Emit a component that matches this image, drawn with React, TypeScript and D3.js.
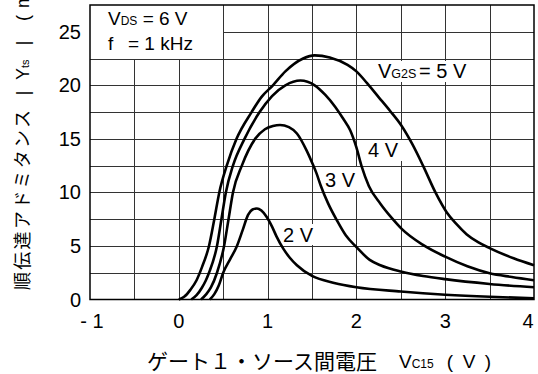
import React from "react";
import * as d3 from "d3";

const xTicks = [-1, 0, 1, 2, 3, 4];
const xTickLabels = ["- 1", "0", "1", "2", "3", "4"];
const yTicks = [0, 5, 10, 15, 20, 25];
const xGrid = [-0.5, 0, 0.5, 1, 1.5, 2, 2.5, 3, 3.5];
const yGrid = [2.5, 5, 7.5, 10, 12.5, 15, 17.5, 20, 22.5, 25];

const curve5V: [number, number][] = [
  [0, 0], [0.06, 0.25], [0.13, 0.9], [0.2, 1.8], [0.26, 3], [0.34, 5], [0.4, 7.5],
  [0.456, 10], [0.54, 12.5], [0.65, 15], [0.82, 17.5], [0.93, 18.9], [1.06, 20],
  [1.2, 21.3], [1.4, 22.5], [1.53, 22.8], [1.7, 22.6], [1.9, 21.9], [2.0, 21.3],
  [2.12, 20.2], [2.25, 18.9], [2.38, 17.6], [2.51, 16.2], [2.63, 14.5], [2.75, 12.5],
  [2.89, 10], [3.02, 8.1], [3.12, 7.1], [3.24, 6.1], [3.37, 5.35], [3.5, 4.8],
  [3.77, 3.85], [4, 3.2],
];
const curve4V: [number, number][] = [
  [0.14, 0], [0.2, 0.4], [0.26, 1.1], [0.3, 1.7], [0.34, 2.5], [0.43, 5], [0.48, 7.5],
  [0.53, 10], [0.61, 12.5], [0.74, 15], [0.91, 17.5], [1.05, 19], [1.2, 20],
  [1.37, 20.45], [1.53, 20.0], [1.65, 19.1], [1.76, 18.0], [1.85, 16.9], [1.93, 15.8],
  [2.0, 14.2], [2.06, 12.4], [2.14, 10.6], [2.27, 8.95], [2.4, 7.6], [2.51, 6.6],
  [2.75, 5.1], [3.0, 4.0], [3.25, 3.1], [3.5, 2.45], [3.75, 2.1], [4, 1.8],
];
const curve3V: [number, number][] = [
  [0.25, 0], [0.31, 0.5], [0.36, 1.1], [0.43, 2.5], [0.51, 5], [0.56, 7.5], [0.61, 10],
  [0.71, 12.5], [0.86, 15], [0.97, 15.9], [1.06, 16.2], [1.14, 16.3], [1.24, 16.1],
  [1.33, 15.5], [1.44, 13.9], [1.5, 12.8], [1.55, 11.8], [1.6, 10.6], [1.68, 9.0],
  [1.78, 7.4], [1.88, 6.0], [2.0, 4.9], [2.15, 3.7], [2.27, 3.2], [2.51, 2.6],
  [2.75, 2.2], [3.0, 1.9], [3.5, 1.45], [4, 1.14],
];
const curve2V: [number, number][] = [
  [0.35, 0], [0.4, 0.5], [0.45, 1.3], [0.5, 2.5], [0.58, 3.8], [0.65, 4.9], [0.72, 6.5],
  [0.78, 7.9], [0.83, 8.4], [0.88, 8.5], [0.93, 8.3], [0.99, 7.7], [1.05, 6.8],
  [1.1, 5.9], [1.18, 4.7], [1.25, 3.9], [1.33, 3.2], [1.5, 2.2], [1.75, 1.55],
  [2.0, 1.15], [2.5, 0.75], [3.0, 0.45], [3.5, 0.25], [4, 0.12],
];
const seriesCurves = [curve5V, curve4V, curve3V, curve2V];

const LAT = "'Liberation Sans', Arial, sans-serif";
const CJK = "'Noto Sans CJK JP', sans-serif";

export default function App() {
  const x = d3.scaleLinear().domain([-1, 4]).range([90, 534]);
  const y = d3.scaleLinear().domain([0, 27.5]).range([299.5, 5]);
  const line = d3
    .line<[number, number]>()
    .x((d) => x(d[0]))
    .y((d) => y(d[1]))
    .curve(d3.curveMonotoneX);

  const left = x(-1);
  const right = x(4);
  const top = y(27.5);
  const bottom = y(0);
  const gx = (v: number) => Math.round(x(v)) + 0.5;
  const gy = (v: number) => Math.round(y(v)) + 0.5;

  const labelRects = [
    { x: 376, y: 61, w: 97, h: 21 },
    { x: 366, y: 140, w: 36, h: 21 },
    { x: 323, y: 167, w: 36, h: 24 },
    { x: 281, y: 224, w: 36, h: 21 },
  ];

  return (
    <svg width={538} height={374} style={{ position: "absolute", left: 0, top: 0, background: "#fff" }}>
      {xGrid.map((v) => (
        <line key={"gx" + v} x1={gx(v)} x2={gx(v)} y1={top} y2={bottom} stroke="#333" strokeWidth={1} />
      ))}
      {yGrid.map((v) => (
        <line key={"gy" + v} x1={left} x2={right} y1={gy(v)} y2={gy(v)} stroke="#333" strokeWidth={1} />
      ))}
      <rect x={left} y={top} width={gx(0.5) - left - 0.5} height={gy(22.5) - top - 0.5} fill="#fff" />
      {labelRects.map((r, i) => (
        <rect key={"lr" + i} x={r.x} y={r.y} width={r.w} height={r.h} fill="#fff" />
      ))}
      {seriesCurves.map((c, i) => (
        <path key={"c" + i} d={line(c) || ""} fill="none" stroke="#000" strokeWidth={2.6} strokeLinejoin="round" />
      ))}
      <rect x={left} y={top} width={right - left} height={bottom - top} fill="none" stroke="#000" strokeWidth={1.5} />

      <text y={25} fontFamily={LAT} fontSize={19} fill="#000">
        <tspan x={108}>V</tspan>
        <tspan fontSize={12}>DS</tspan>
        <tspan> = 6 V</tspan>
      </text>
      <text y={50} fontFamily={LAT} fontSize={19} fill="#000">
        <tspan x={108}>f</tspan>
        <tspan x={128}>= 1 kHz</tspan>
      </text>

      <text y={78} fontFamily={LAT} fontSize={20} fill="#000">
        <tspan x={378}>V</tspan>
        <tspan fontSize={12.5}>G2S</tspan>
        <tspan x={419}>= 5 V</tspan>
      </text>
      <text x={368} y={157} fontFamily={LAT} fontSize={20} fill="#000">4 V</text>
      <text x={325} y={187} fontFamily={LAT} fontSize={20} fill="#000">3 V</text>
      <text x={283} y={242} fontFamily={LAT} fontSize={20} fill="#000">2 V</text>

      {yTicks.map((t) => (
        <text key={"yt" + t} x={81} y={y(t) + 7} textAnchor="end" fontFamily={LAT} fontSize={20} fill="#000">
          {t}
        </text>
      ))}
      {xTicks.map((t, i) => (
        <text
          key={"xt" + t}
          x={x(t) + (i === 0 ? 2 : i === xTicks.length - 1 ? -6 : 0)}
          y={328}
          textAnchor="middle"
          fontFamily={LAT}
          fontSize={20}
          fill="#000"
        >
          {xTickLabels[i]}
        </text>
      ))}

      <text x={147} y={369} fontFamily={CJK} fontSize={21} fill="#000">ゲート１・ソース間電圧</text>
      <text y={368} fontFamily={LAT} fontSize={19} fill="#000">
        <tspan x={399}>V</tspan>
        <tspan fontSize={12}>C15</tspan>
      </text>
      <text x={450} y={368} textAnchor="middle" fontFamily={LAT} fontSize={19} fill="#000">(</text>
      <text x={469} y={368} textAnchor="middle" fontFamily={LAT} fontSize={19} fill="#000">V</text>
      <text x={488} y={368} textAnchor="middle" fontFamily={LAT} fontSize={19} fill="#000">)</text>

      <g transform="rotate(-90)">
        <text x={-290} y={29} fontFamily={CJK} fontSize={18} letterSpacing={2.3} fill="#000">
          順伝達アドミタンス
        </text>
        <text x={-93} y={29} textAnchor="middle" fontFamily={LAT} fontSize={18} fill="#000">|</text>
        <text y={29} fontFamily={LAT} fontSize={18} fill="#000">
          <tspan x={-80}>Y</tspan>
          <tspan fontSize={11}>ts</tspan>
        </text>
        <text x={-43} y={29} textAnchor="middle" fontFamily={LAT} fontSize={18} fill="#000">|</text>
        <text x={-18} y={29} textAnchor="middle" fontFamily={LAT} fontSize={18} fill="#000">(</text>
        <text x={-8} y={29} fontFamily={LAT} fontSize={18} fill="#000">mS )</text>
      </g>
    </svg>
  );
}
